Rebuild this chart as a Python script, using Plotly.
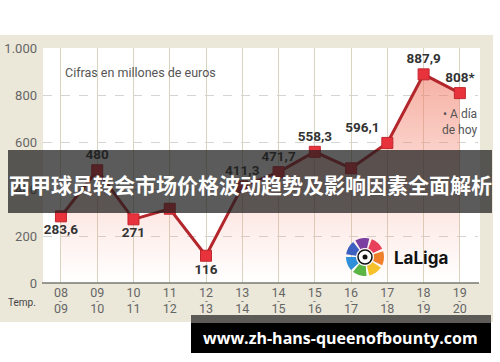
import plotly.graph_objects as go
import math

# ---- data ----
seasons_top = ["08", "09", "10", "11", "12", "13", "14", "15", "16", "17", "18", "19"]
seasons_bot = ["09", "10", "11", "12", "13", "14", "15", "16", "17", "18", "19", "20"]
values = [283.6, 480, 271, 316, 116, 411.3, 471.7, 558.3, 488, 596.1, 887.9, 808]
labels = ["283,6", "480", "271", "", "116", "411,3", "471,7", "558,3", "", "596,1", "887,9", "808*"]
label_pos = ["bottom center", "top center", "bottom center", "top center", "bottom center",
             "top center", "top center", "top center", "top center", "top left", "top center", "top center"]
ytick_vals = [0, 200, 400, 600, 800, 1000]
ytick_text = ["0", "200", "400", "600", "800", "1.000"]
title_text = "西甲球员转会市场价格波动趋势及影响因素全面解析"
url_text = "www.zh-hans-queenofbounty.com"

W, H = 500, 362
L, R, T, B = 43, 22, 48, 79
PW, PH = W - L - R, H - T - B


def px(x):
    return (x - L) / PW


def py(y):
    return (H - B - y) / PH


xs = list(range(len(values)))

fig = go.Figure()
fig.add_trace(go.Scatter(
    x=xs, y=values, mode="lines+markers+text",
    line=dict(color="#b3262c", width=3),
    marker=dict(symbol="square", size=11, color="#e8323c", line=dict(color="#c0262e", width=1)),
    fill="tozeroy",
    fillgradient=dict(type="vertical", start=0, stop=900,
                      colorscale=[[0, "rgba(245,150,130,0.0)"], [1, "rgba(240,120,100,0.6)"]]),
    text=labels, textposition=label_pos,
    textfont=dict(family="Roboto", size=13.5, color="#333333", weight="bold"),
    cliponaxis=False, hoverinfo="skip", showlegend=False,
))

shapes = []
# beige card
shapes.append(dict(type="rect", xref="paper", yref="paper", x0=px(0), x1=px(493), y0=py(322), y1=py(35),
                   fillcolor="#ebe8da", line=dict(width=0), layer="below"))
# white plot area
shapes.append(dict(type="rect", xref="paper", yref="paper", x0=px(43), x1=px(480), y0=py(283), y1=py(48),
                   fillcolor="#ffffff", line=dict(width=0), layer="below"))
# axis zero line
shapes.append(dict(type="line", xref="paper", yref="paper", x0=px(42), x1=px(479), y0=py(283), y1=py(283),
                   line=dict(color="#7a7a72", width=1.5)))

# LaLiga logo petals
cx, cy = 365, 257
petal_colors = ["#e8405a", "#f07f2a", "#f6c22b", "#5bb544", "#2f8fd8", "#3d5fc0", "#7a3fa0"]
n = len(petal_colors)
for i, col in enumerate(petal_colors):
    a0 = math.radians(90 - 25 - i * 360 / n + 4)
    a1 = math.radians(90 - 25 - (i + 1) * 360 / n + 4 + 8)
    pts = []
    steps = 8
    for k in range(steps + 1):
        a = a0 + (a1 - a0) * k / steps
        pts.append((cx + 19 * math.cos(a), cy - 19 * math.sin(a)))
    for k in range(steps + 1):
        a = a1 + (a0 - a1) * k / steps
        pts.append((cx + 9 * math.cos(a), cy - 9 * math.sin(a)))
    path = "M " + " L ".join(f"{px(p[0]):.5f},{py(p[1]):.5f}" for p in pts) + " Z"
    shapes.append(dict(type="path", xref="paper", yref="paper", path=path,
                       fillcolor=col, line=dict(width=0)))
shapes.append(dict(type="circle", xref="paper", yref="paper", x0=px(cx - 7), x1=px(cx + 7),
                   y0=py(cy + 7), y1=py(cy - 7), fillcolor="#ffffff", line=dict(color="#111111", width=1.5)))
shapes.append(dict(type="circle", xref="paper", yref="paper", x0=px(cx - 2.5), x1=px(cx + 2.5),
                   y0=py(cy + 2.5), y1=py(cy - 2.5), fillcolor="#111111", line=dict(width=0)))

# title banner
shapes.append(dict(type="rect", xref="paper", yref="paper", x0=px(8), x1=px(492), y0=py(213), y1=py(150),
                   fillcolor="rgba(30,30,30,0.73)", line=dict(width=0), layer="above"))
# url box
shapes.append(dict(type="rect", xref="paper", yref="paper", x0=px(191), x1=px(491), y0=py(323), y1=py(315),
                   fillcolor="#5c5b57", line=dict(width=0), layer="above"))
shapes.append(dict(type="rect", xref="paper", yref="paper", x0=px(191), x1=px(491), y0=py(353), y1=py(323),
                   fillcolor="#000000", line=dict(width=0), layer="above"))

annotations = []
annotations.append(dict(xref="paper", yref="paper", x=px(63), y=py(72), xanchor="left", yanchor="middle",
                        text="Cifras en millones de euros", showarrow=False,
                        font=dict(family="Roboto", size=12.5, color="#555555")))
annotations.append(dict(xref="paper", yref="paper", x=px(479), y=py(122), xanchor="right", yanchor="middle",
                        text="• A día<br>de hoy", showarrow=False, align="right",
                        font=dict(family="Roboto", size=12, color="#555555")))
annotations.append(dict(xref="paper", yref="paper", x=px(22), y=py(302), xanchor="center", yanchor="middle",
                        text="Temp.", showarrow=False,
                        font=dict(family="Roboto", size=10, color="#444444")))
for i in xs:
    annotations.append(dict(xref="x", yref="paper", x=i, y=py(301), xanchor="center", yanchor="middle",
                            text="-", showarrow=False,
                            font=dict(family="Roboto", size=10, color="#777777")))
annotations.append(dict(xref="paper", yref="paper", x=px(392), y=py(258), xanchor="left", yanchor="middle",
                        text="<b>LaLiga</b>", showarrow=False,
                        font=dict(family="Inter", size=17, color="#111111")))
annotations.append(dict(xref="paper", yref="paper", x=px(250), y=py(184), xanchor="center", yanchor="middle",
                        text="<b>" + title_text + "</b>", showarrow=False,
                        font=dict(family="Noto Sans CJK SC", size=21, color="#ffffff")))
annotations.append(dict(xref="paper", yref="paper", x=px(340), y=py(338), xanchor="center", yanchor="middle",
                        text="<b>" + url_text + "</b>", showarrow=False,
                        font=dict(family="Open Sans", size=16, color="#ffffff")))

fig.update_layout(
    width=W, height=H,
    margin=dict(l=L, r=R, t=T, b=B, pad=0, autoexpand=False),
    paper_bgcolor="#ffffff", plot_bgcolor="rgba(0,0,0,0)",
    shapes=shapes, annotations=annotations,
    xaxis=dict(range=[-0.495, 11.5], tickvals=xs,
               ticktext=[f"{a}<br>{b}" for a, b in zip(seasons_top, seasons_bot)],
               tickfont=dict(family="Roboto", size=12.5, color="#666666"),
               showgrid=True, gridcolor="#d9d4bf", gridwidth=1, zeroline=False,
               showline=False, ticks="", fixedrange=True, automargin=False),
    yaxis=dict(range=[0, 1000], tickvals=ytick_vals, ticktext=ytick_text,
               tickfont=dict(family="Roboto", size=13, color="#666666"),
               showgrid=True, gridcolor="#d4d4d0", griddash="dash", gridwidth=1,
               zeroline=False, showline=False, ticks="", ticklabelstandoff=5, fixedrange=True,
               automargin=False),
)

fig.write_html("out.html")
